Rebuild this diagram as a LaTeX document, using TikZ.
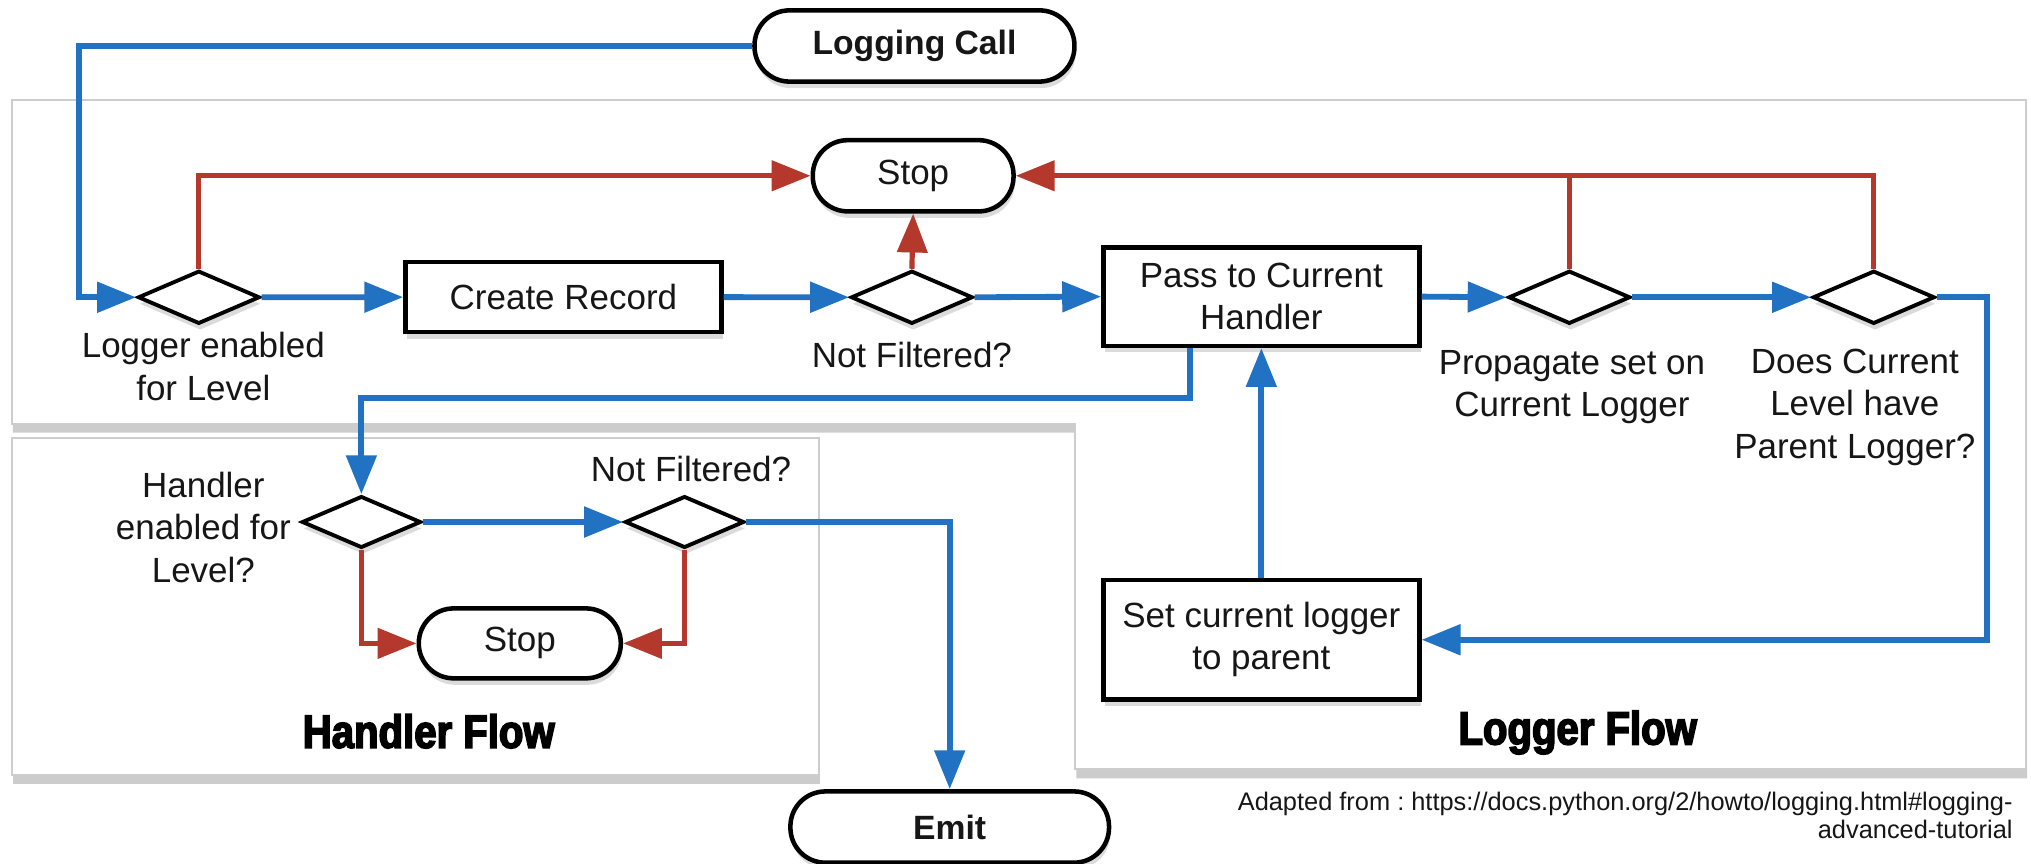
\documentclass[tikz,border=0pt]{standalone}
\usepackage{fontspec}
\setmainfont{Liberation Sans}
\newfontfamily\titlefont[FakeStretch=0.86,FakeBold=3.5]{Liberation Sans}
\usetikzlibrary{arrows.meta,shapes.geometric,shadows,calc}

\definecolor{flowblue}{RGB}{34,114,196}
\definecolor{flowred}{RGB}{180,56,44}
\definecolor{panelline}{RGB}{205,205,205}
\definecolor{ink}{RGB}{22,22,22}

\tikzset{
  boxfont/.style={font=\fontsize{27}{32.7}\selectfont},
  softshadow/.style={drop shadow={shadow xshift=1pt, shadow yshift=-5pt, opacity=0.28}},
  panel/.style={draw=panelline, line width=1.5pt, fill=white,
    drop shadow={shadow xshift=1pt, shadow yshift=-7pt, opacity=0.4}},
  procbox/.style={rectangle, draw=black, line width=3.5pt, fill=white, inner sep=0pt,
    align=center, boxfont, text=ink, softshadow},
  pill/.style={procbox, rounded corners=27pt},
  decision/.style={diamond, draw=black, line width=3pt, fill=white, inner sep=0pt,
    minimum width=94pt, minimum height=41pt, softshadow},
  flowtext/.style={align=center, boxfont, inner sep=0pt, text=ink},
  titletext/.style={font=\titlefont\bfseries\fontsize{36}{40}\selectfont, inner sep=0pt, text=black},
  blueflow/.style={draw=flowblue, line width=4.5pt, -{Triangle[length=30pt,width=23pt]}},
  redflow/.style={draw=flowred, line width=4pt, -{Triangle[length=30pt,width=23pt]}},
  redline/.style={draw=flowred, line width=4pt},
}

\begin{document}
\frenchspacing
\begin{tikzpicture}[x=1pt, y=-1pt]
  \useasboundingbox (0,0) rectangle (1568,667);

  % panels
  \path[panel] (9,77) -- (1564,77) -- (1564,594) -- (830,594) -- (830,327) -- (9,327) -- cycle;
  \path[panel] (9,338) rectangle (632,598);

  % terminals
  \node[pill, font=\bfseries\fontsize{26}{30}\selectfont, minimum width=247pt, minimum height=55pt] (lc) at (706,35.5) {Logging Call};
  \node[pill, minimum width=155pt, minimum height=55pt] (stopA) at (705,135.7) {Stop};
  \node[pill, minimum width=156pt, minimum height=54pt] (stopB) at (401.3,496.7) {Stop};
  \node[pill, font=\bfseries\fontsize{26}{30}\selectfont, minimum width=246pt, minimum height=55pt] (emit) at (733.2,638.5) {Emit};

  % logger flow
  \node[decision] (dlevel) at (153.5,229.5) {};
  \node[procbox, minimum width=244pt, minimum height=54pt] (create) at (435,229.4) {Create Record};
  \node[decision] (dfilter) at (704,229.5) {};
  \node[procbox, minimum width=244pt, minimum height=76pt] (pass) at (973.8,229) {Pass to Current\\Handler};
  \node[decision] (dprop) at (1211.6,229.5) {};
  \node[decision] (dparent) at (1446.6,229.5) {};
  \node[procbox, minimum width=244pt, minimum height=92pt] (setparent) at (973.8,493.9) {Set current logger\\to parent};

  % handler flow
  \node[decision, minimum width=92pt, minimum height=40pt] (hlevel) at (279,403) {};
  \node[decision, minimum width=92pt, minimum height=40pt] (hfilter) at (528.5,403) {};

  % captions
  \node[flowtext] (tlevel) at (157,283) {Logger enabled\\for Level};
  \node[flowtext] (tfilter) at (704,274) {Not Filtered?};
  \node[flowtext] (tprop) at (1213.6,298.7) {Propagate set on\\Current Logger};
  \node[flowtext] (tparent) at (1432,314.4) {Does Current\\Level have\\Parent Logger?};
  \node[flowtext] (thlevel) at (157,407) {Handler\\enabled for\\Level?};
  \node[flowtext] (thfilter) at (533.5,362.3) {Not Filtered?};
  \node[titletext] (thflow) at (331,564.5) {Handler Flow};
  \node[titletext] (tlflow) at (1218,565.5) {Logger Flow};
  \node[align=right, anchor=north east, inner sep=0pt, text=ink,
        font=\fontsize{19.6}{22}\selectfont] (credit) at (1554,611)
        {Adapted from : https://docs.python.org/2/howto/logging.html\#logging-\\advanced-tutorial};

  % main path
  \draw[blueflow] (lc.west) -- ++(-520,0) |- (dlevel.west);
  \draw[blueflow] (dlevel.east) -- (create.west);
  \draw[blueflow] (create.east) -- (dfilter.west);
  \draw[blueflow] (dfilter.east) -- (pass.west);
  \draw[blueflow] (pass.east) -- (dprop.west);
  \draw[blueflow] (dprop.east) -- (dparent.west);
  \draw[blueflow] (dparent.east) -- ++(39,0) |- (setparent.east);
  \draw[blueflow] (setparent.north) -- (pass.south);
  \draw[blueflow] ($(pass.south)+(-55,0)$) -- ++(0,38.5) -| (hlevel.north);
  \draw[blueflow] (hlevel.east) -- (hfilter.west);
  \draw[blueflow] (hfilter.east) -| (emit.north);

  % rejections
  \draw[redflow] (dlevel.north) |- (stopA.west);
  \draw[redflow] (dfilter.north) -- (stopA.south);
  \draw[redline] (dprop.north) -- (dprop.north |- stopA.east);
  \draw[redflow] (dparent.north) |- (stopA.east);
  \draw[redflow] (hlevel.south) |- (stopB.west);
  \draw[redflow] (hfilter.south) |- (stopB.east);
\end{tikzpicture}
\end{document}
